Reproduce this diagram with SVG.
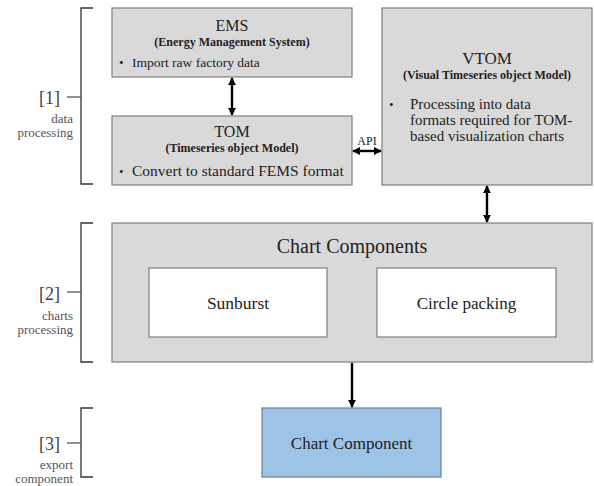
<svg xmlns="http://www.w3.org/2000/svg" width="594" height="486" viewBox="0 0 594 486">
<defs>
<style>
.box{fill:#d9d9d9;stroke:#7f7f7f;stroke-width:1.2}
.inner{fill:#ffffff;stroke:#7f7f7f;stroke-width:1.2}
.blue{fill:#9dc3e6;stroke:#6f7f92;stroke-width:1.2}
text{font-family:"Liberation Serif","DejaVu Serif",serif;fill:#222}
.title{font-size:16px;text-anchor:middle}
.sub{font-size:12px;font-weight:bold;text-anchor:middle}
.body{font-size:15.5px}
.lbl{font-size:13px;fill:#555;text-anchor:end}
.num{font-size:18px;fill:#444;text-anchor:end}
.brk{fill:none;stroke:#333;stroke-width:1.3}
.tick{stroke:#555;stroke-width:1.3}
.conn{stroke:#000;stroke-width:2.4;fill:none}
</style>
<marker id="ah" viewBox="0 0 10 10" refX="9" refY="5" markerWidth="8" markerHeight="9" markerUnits="userSpaceOnUse" orient="auto-start-reverse">
<path d="M0,0 L10,5 L0,10 z" fill="#000"/>
</marker>
</defs>

<g id="labels">
<path class="brk" d="M93,8 H81 V184 H93"/>
<line class="tick" x1="67" y1="97" x2="81" y2="97"/>
<text class="num" x="60" y="104">[1]</text>
<text class="lbl" x="73" y="123">data</text>
<text class="lbl" x="73" y="137">processing</text>

<path class="brk" d="M93,223 H81 V362 H93"/>
<line class="tick" x1="67" y1="292" x2="81" y2="292"/>
<text class="num" x="60" y="300">[2]</text>
<text class="lbl" x="73" y="320">charts</text>
<text class="lbl" x="73" y="334">processing</text>

<path class="brk" d="M93,408 H81 V477 H93"/>
<line class="tick" x1="67" y1="443" x2="81" y2="443"/>
<text class="num" x="60" y="450">[3]</text>
<text class="lbl" x="73" y="469">export</text>
<text class="lbl" x="73" y="483">component</text>
</g>

<g id="ems">
<rect class="box" x="112" y="8" width="240" height="69"/>
<text class="title" x="232" y="31">EMS</text>
<text class="sub" x="232" y="46">(Energy Management System)</text>
<text x="119" y="67" style="font-size:13px">•</text>
<text x="132" y="67" style="font-size:13.5px">Import raw factory data</text>
</g>

<g id="tom">
<rect class="box" x="112" y="116" width="240" height="69"/>
<text class="title" x="232" y="137">TOM</text>
<text class="sub" x="232" y="152">(Timeseries object Model)</text>
<text x="119" y="176" style="font-size:13px">•</text>
<text class="body" x="132" y="176">Convert to standard FEMS format</text>
</g>

<g id="vtom">
<rect class="box" x="382" y="8" width="210" height="177"/>
<text class="title" x="487" y="64" style="font-size:17px">VTOM</text>
<text class="sub" x="487" y="79">(Visual Timeseries object Model)</text>
<text x="389" y="109" style="font-size:13px">•</text>
<text x="410" y="109" style="font-size:15px">Processing into data</text>
<text x="410" y="125" style="font-size:15px">formats required for TOM-</text>
<text x="410" y="141" style="font-size:15px">based visualization charts</text>
</g>

<g id="chart-components">
<rect class="box" x="112" y="223" width="480" height="139"/>
<text x="352" y="253" style="font-size:20px;text-anchor:middle">Chart Components</text>
</g>

<g id="sunburst">
<rect class="inner" x="149" y="268" width="178" height="69"/>
<text x="238" y="309" style="font-size:17.5px;text-anchor:middle">Sunburst</text>
</g>

<g id="circle-packing">
<rect class="inner" x="377" y="268" width="179" height="69"/>
<text x="466.5" y="309" style="font-size:17px;text-anchor:middle">Circle packing</text>
</g>

<g id="chart-component">
<rect class="blue" x="262" y="408" width="179" height="69"/>
<text x="351.5" y="449" style="font-size:17px;text-anchor:middle">Chart Component</text>
</g>

<g id="connectors">
<line class="conn" x1="232" y1="78" x2="232" y2="115" marker-start="url(#ah)" marker-end="url(#ah)"/>
<line class="conn" x1="353" y1="151" x2="381" y2="151" marker-start="url(#ah)" marker-end="url(#ah)"/>
<text x="367" y="145" style="font-size:12px;text-anchor:middle">API</text>
<line class="conn" x1="487" y1="186" x2="487" y2="222" marker-start="url(#ah)" marker-end="url(#ah)"/>
<line class="conn" x1="352" y1="363" x2="352" y2="407" marker-end="url(#ah)"/>
</g>
</svg>
